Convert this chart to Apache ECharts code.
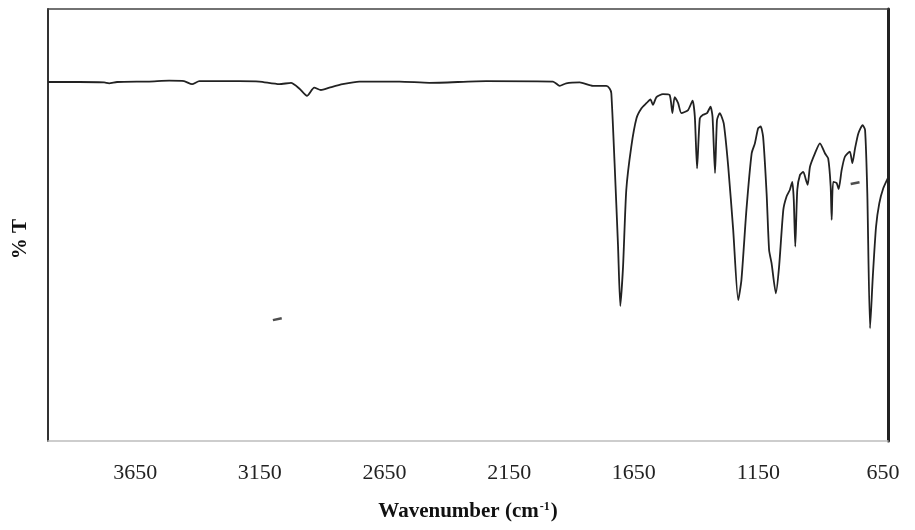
<!DOCTYPE html>
<html>
<head>
<meta charset="utf-8">
<script src="https://cdn.jsdelivr.net/npm/echarts@6/dist/echarts.min.js"></script>
<style>
html,body{margin:0;padding:0;background:#fff;}
#chart{width:915px;height:530px;}
</style>
</head>
<body>
<div id="chart"></div>
<script>
// Wavenumber (cm-1) and transmittance (%T, arbitrary 0-100 scale)
var wavenumber = [4000,3875,3775,3755,3723,3594,3514,3454,3422,3393,3233,3152,3072,3025,2992,2961,2932,2905,2871,2818,2751,2590,2470,2242,1974,1947,1921,1867,1814,1760,1747,1740,1727,1713,1704,1693,1680,1660,1639,1619,1599,1583,1573,1559,1533,1506,1495,1486,1472,1459,1432,1414,1405,1396,1385,1372,1356,1342,1334,1324,1316,1305,1289,1271,1251,1231,1218,1198,1177,1164,1151,1141,1131,1117,1107,1097,1080,1067,1050,1037,1024,1014,1008,1002,994,983,970,959,952,943,923,903,883,870,860,856,850,836,828,816,803,783,773,762,749,732,722,713,702,691,678,665,649,631];
var transmittance = [83.1,83.1,83.0,82.8,83.1,83.2,83.4,83.3,82.6,83.3,83.3,83.2,82.6,82.9,81.6,79.9,81.8,81.25,81.8,82.6,83.2,83.2,82.9,83.3,83.2,82.2,82.8,83.0,82.2,82.2,81.6,80.5,64.4,45.0,31.25,40.3,58.1,68.1,74.7,77.0,78.2,79.1,77.8,79.6,80.3,80.1,75.9,79.6,78.2,75.9,76.6,78.8,75.1,63.1,74.7,75.5,75.9,77.4,75.1,62.0,74.3,75.9,73.5,63.5,48.8,32.6,37.3,53.5,66.6,68.9,72.4,72.8,70.4,57.3,44.2,41.1,34.2,40.3,53.5,56.6,58.1,60.0,55.8,45.0,58.1,61.6,62.3,60.4,59.3,63.5,66.6,68.9,66.6,65.4,58.9,51.2,60.0,59.7,58.3,62.7,65.8,67.0,64.3,67.8,71.2,73.1,72.0,57.3,26.1,38.0,49.6,55.0,58.5,60.8];
// stray specks on the scanned figure
var speckX = [3080, 762];
var speckY = [28.2, 59.7];
var tickLabels = [650,1150,1650,2150,2650,3150,3650];

var chart = echarts.init(document.getElementById('chart'), null, {renderer:'canvas'});
var serif = '"Liberation Serif","Times New Roman",serif';
var lineData = wavenumber.map(function(w,i){return [w, transmittance[i]];});
var speckData = speckX.map(function(w,i){return [w, speckY[i]];});

chart.setOption({
  backgroundColor:'#fff',
  animation:false,
  grid:{left:48, right:27, top:9, bottom:89, containLabel:false},
  xAxis:[{
    type:'value', min:630, max:4000, inverse:true, position:'bottom',
    axisLine:{show:true, onZero:false, lineStyle:{color:'#bdbdbd', width:1.5}},
    axisTick:{show:false},
    splitLine:{show:false},
    axisLabel:{show:true, customValues:tickLabels, formatter:function(v){return String(v);},
      fontFamily:serif, fontSize:22, color:'#222', margin:21},
    name:'Wavenumber (cm{sup|-1})', nameLocation:'middle', nameGap:60,
    nameTextStyle:{fontFamily:serif, fontWeight:'bold', fontSize:21, color:'#111',
      rich:{sup:{fontFamily:serif, fontWeight:'bold', fontSize:12, color:'#111', verticalAlign:'top', padding:[0,1,9,1]}}}
  },{
    type:'value', min:630, max:4000, inverse:true, position:'top',
    axisLine:{show:true, onZero:false, lineStyle:{color:'#444', width:1.5}},
    axisTick:{show:false}, axisLabel:{show:false}, splitLine:{show:false}
  }],
  yAxis:[{
    type:'value', min:0, max:100, position:'left',
    axisLine:{show:true, onZero:false, lineStyle:{color:'#333', width:2}},
    axisTick:{show:false}, axisLabel:{show:false}, splitLine:{show:false},
    name:'% T', nameLocation:'middle', nameRotate:90, nameGap:17,
    nameTextStyle:{fontFamily:serif, fontWeight:'bold', fontSize:21, color:'#111', padding:[0,28,0,0]}
  },{
    type:'value', min:0, max:100, position:'right',
    axisLine:{show:true, onZero:false, lineStyle:{color:'#222', width:3}},
    axisTick:{show:false}, axisLabel:{show:false}, splitLine:{show:false}
  }],
  series:[{
    type:'line', data:lineData, showSymbol:false, smooth:0.2,
    lineStyle:{color:'#222', width:1.8}, z:3
  },{
    type:'scatter', data:speckData, symbol:'rect', symbolSize:[9,2.5], symbolRotate:12,
    itemStyle:{color:'#222'}
  }]
});
</script>
</body>
</html>
